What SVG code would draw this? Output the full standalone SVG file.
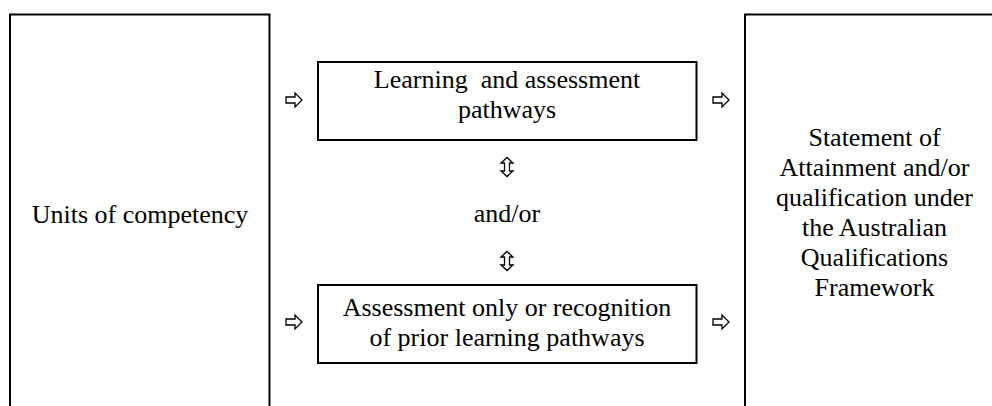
<svg xmlns="http://www.w3.org/2000/svg" width="992" height="406" viewBox="0 0 992 406">
  <style>
    .box { fill: #ffffff; stroke: #000000; stroke-width: 2; }
    .t { font-family: "Liberation Serif", "Times New Roman", serif; font-size: 26px; fill: #000000; text-anchor: middle; }
    .arr { fill: #ffffff; stroke: #000000; stroke-width: 1.3; stroke-linejoin: miter; }
  </style>
  <defs>
    <path id="rarrow" d="M-8,-3 H1 V-7 L8,0 L1,7 V3 H-8 Z"/>
    <path id="udarrow" d="M0,-9.5 L6,-4 H2.5 V4 H6 L0,9.5 L-6,4 H-2.5 V-4 H-6 Z"/>
  </defs>
  <rect width="992" height="406" fill="#ffffff"/>

  <g id="units">
    <rect class="box" x="10" y="14.5" width="259.5" height="400"/>
    <text class="t" x="140" y="222.5">Units of competency</text>
  </g>

  <g id="learning">
    <rect class="box" x="318" y="62" width="378.5" height="78"/>
    <text class="t" x="507" y="88" xml:space="preserve">Learning  and assessment</text>
    <text class="t" x="507" y="118">pathways</text>
  </g>

  <g id="andor">
    <text class="t" x="507" y="222">and/or</text>
  </g>

  <g id="assessment">
    <rect class="box" x="318" y="285" width="378.5" height="78"/>
    <text class="t" x="507" y="315.5">Assessment only or recognition</text>
    <text class="t" x="507" y="345.5">of prior learning pathways</text>
  </g>

  <g id="statement">
    <rect class="box" x="745" y="14.5" width="260" height="400"/>
    <text class="t" x="874.5" y="146">Statement of</text>
    <text class="t" x="874.5" y="176">Attainment and/or</text>
    <text class="t" x="874.5" y="206">qualification under</text>
    <text class="t" x="874.5" y="236">the Australian</text>
    <text class="t" x="874.5" y="266">Qualifications</text>
    <text class="t" x="874.5" y="296">Framework</text>
  </g>

  <g id="connectors">
    <use href="#rarrow" class="arr" x="294" y="100"/>
    <use href="#rarrow" class="arr" x="721" y="100"/>
    <use href="#rarrow" class="arr" x="294" y="322"/>
    <use href="#rarrow" class="arr" x="721" y="322"/>
    <use href="#udarrow" class="arr" x="507" y="167"/>
    <use href="#udarrow" class="arr" x="507" y="261"/>
  </g>
</svg>
